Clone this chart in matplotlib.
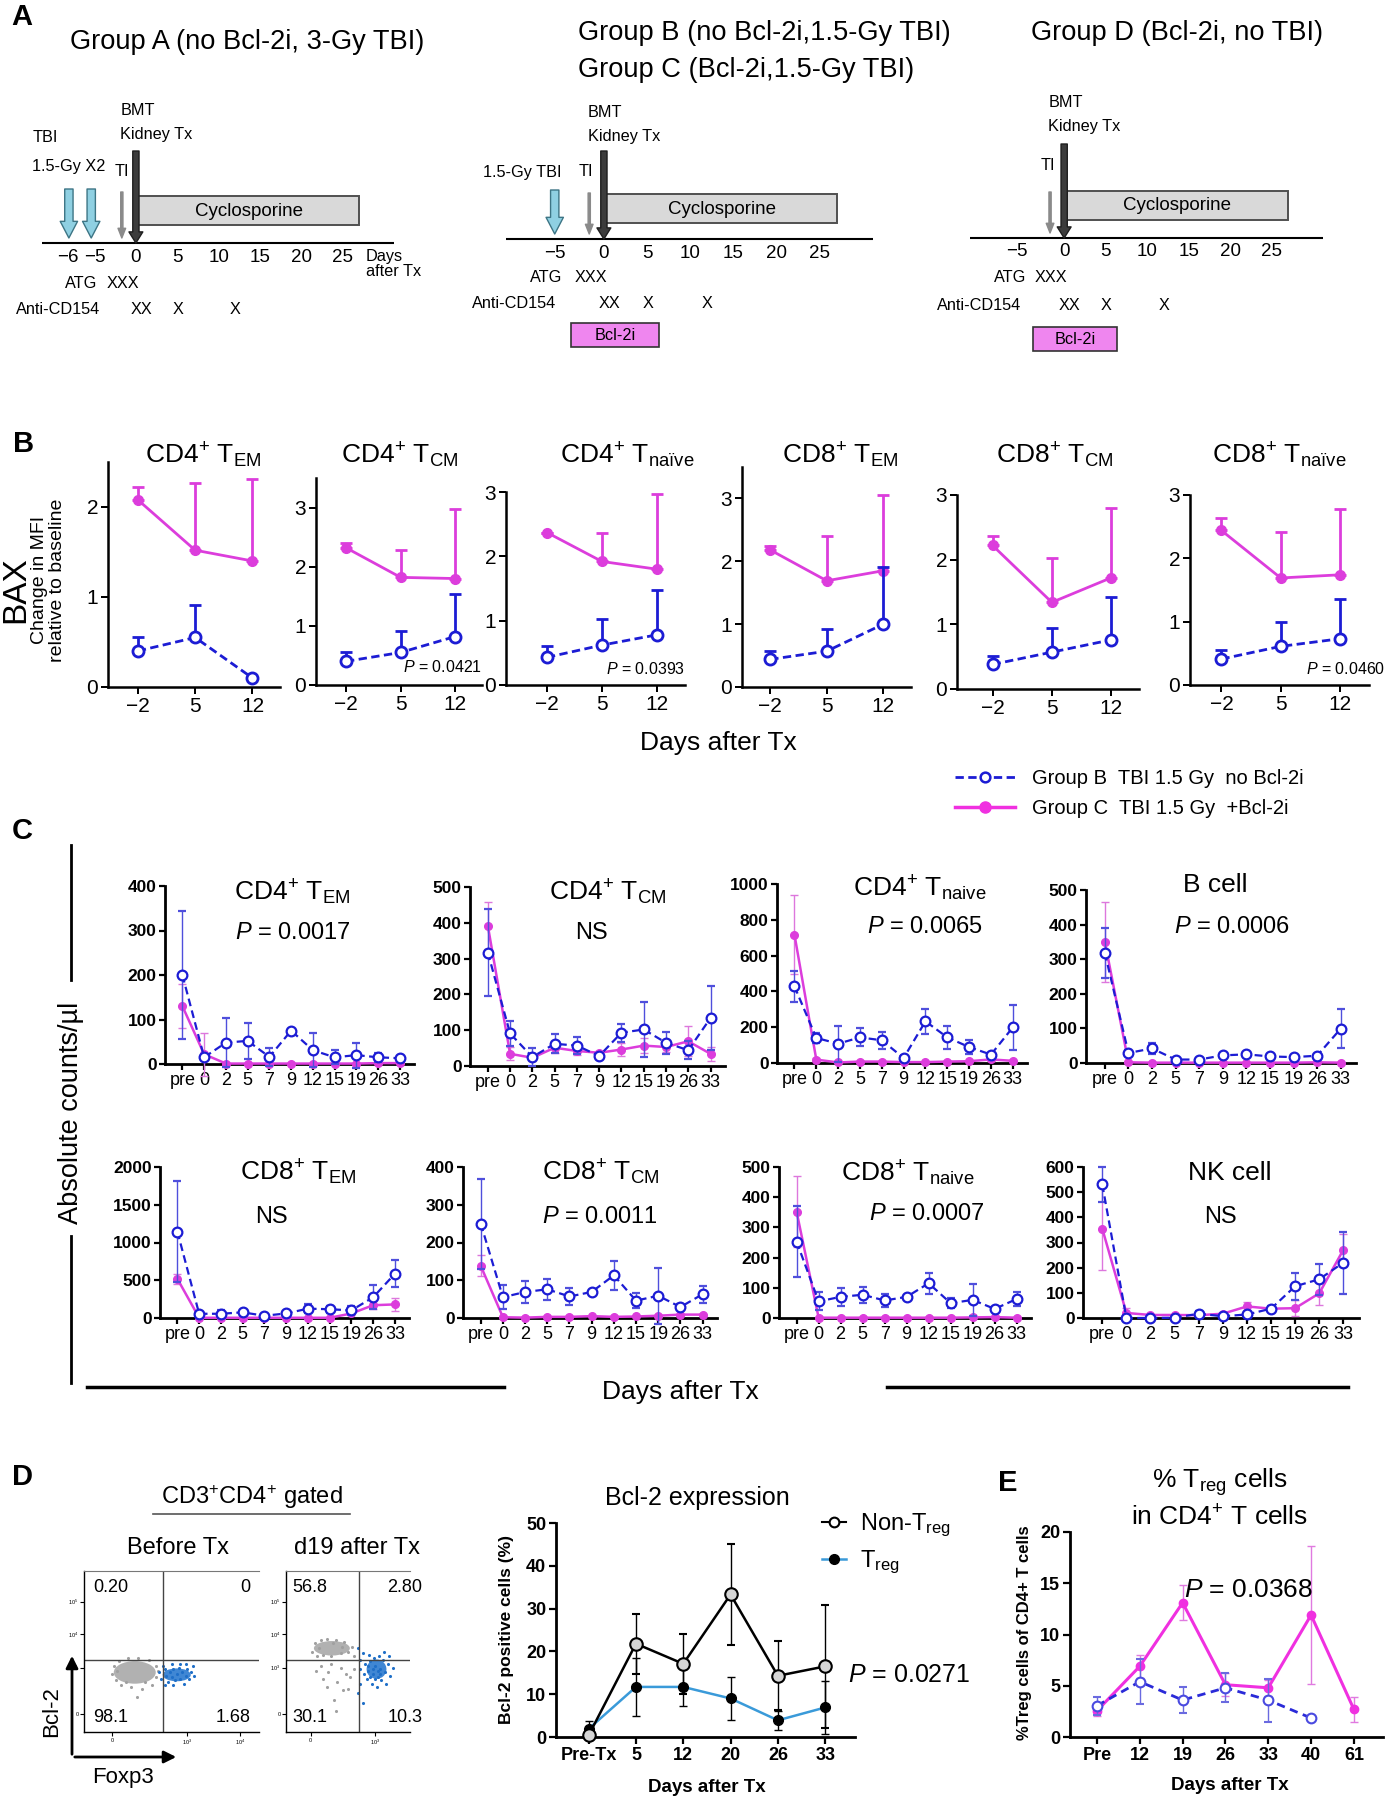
import numpy as np
import matplotlib
matplotlib.use("Agg")
import matplotlib.pyplot as plt
from matplotlib import font_manager as fm
from matplotlib.patches import Rectangle, Ellipse, FancyArrowPatch
from matplotlib.lines import Line2D


def font_ok(name):
    try:
        fm.findfont(name, fallback_to_default=False)
        return True
    except Exception:
        return False


SANS = "Liberation Sans" if font_ok("Liberation Sans") else "DejaVu Sans"

plt.rcParams["font.family"] = [SANS, "DejaVu Sans"]
plt.rcParams["mathtext.fontset"] = "custom"
plt.rcParams["mathtext.rm"] = SANS
plt.rcParams["mathtext.it"] = SANS + ":italic"
plt.rcParams["mathtext.bf"] = SANS + ":bold"

# ---------------- panel A: schedule (days after Tx, schematic axis) ----------------
tx_day = 0
ti_day = -1.7
csa_start, csa_end = 0.3, 27.0
bcl2i_start, bcl2i_end = -3.8, 6.4
atg_day = -1.55
cd154_days = [0.7, 5.1, 12.0]
cd154_marks = ["XX", "X", "X"]
tbi_days_A = [-8.1, -5.4]      # axis left of 0 is squeezed in the original
tbi_days_B = [-5.7]
ticks_A = [-8.2, -4.9, 0, 5, 10, 15, 20, 25]
ticklabels_A = ["\u22126", "\u22125", "0", "5", "10", "15", "20", "25"]
ticks_BD = [-5.7, 0, 5, 10, 15, 20, 25]
ticklabels_BD = ["\u22125", "0", "5", "10", "15", "20", "25"]

# ---------------- panel B: BAX change in MFI ----------------
b_titles = [r"CD4$^{+}$ T$_{\mathrm{EM}}$", r"CD4$^{+}$ T$_{\mathrm{CM}}$", r"CD4$^{+}$ T$_{\mathrm{naïve}}$",
            r"CD8$^{+}$ T$_{\mathrm{EM}}$", r"CD8$^{+}$ T$_{\mathrm{CM}}$", r"CD8$^{+}$ T$_{\mathrm{naïve}}$"]
b_days = ["\u22122", "5", "12"]
b_grpC = [[2.08, 1.52, 1.40], [2.32, 1.82, 1.80], [2.37, 1.92, 1.80],
          [2.18, 1.69, 1.85], [2.22, 1.34, 1.72], [2.44, 1.69, 1.74]]
b_grpC_err = [[0.14, 0.75, 0.91], [0.08, 0.46, 1.18], [0.0, 0.45, 1.17],
              [0.07, 0.72, 1.21], [0.14, 0.69, 1.08], [0.19, 0.72, 1.04]]
b_grpB = [[0.40, 0.55, 0.10], [0.40, 0.55, 0.82], [0.43, 0.62, 0.78],
          [0.44, 0.57, 1.00], [0.38, 0.57, 0.76], [0.41, 0.61, 0.73]]
b_grpB_err = [[0.16, 0.36, 0.0], [0.15, 0.37, 0.72], [0.17, 0.41, 0.69],
              [0.13, 0.36, 0.91], [0.13, 0.37, 0.67], [0.15, 0.38, 0.63]]
b_ymax = [2.5, 3.5, 3.0, 3.5, 3.0, 3.0]
b_pval = ["", r"$P$ = 0.0421", r"$P$ = 0.0393", "", "", r"$P$ = 0.0460"]

# ---------------- panel C: absolute counts ----------------
c_days = ["pre", "0", "2", "5", "7", "9", "12", "15", "19", "26", "33"]
c_titles = [r"CD4$^{+}$ T$_{\mathrm{EM}}$", r"CD4$^{+}$ T$_{\mathrm{CM}}$", r"CD4$^{+}$ T$_{\mathrm{naive}}$", "B cell",
            r"CD8$^{+}$ T$_{\mathrm{EM}}$", r"CD8$^{+}$ T$_{\mathrm{CM}}$", r"CD8$^{+}$ T$_{\mathrm{naive}}$", "NK cell"]
c_stats = [r"$P$ = 0.0017", "NS", r"$P$ = 0.0065", r"$P$ = 0.0006",
           "NS", r"$P$ = 0.0011", r"$P$ = 0.0007", "NS"]
c_ymax = [400, 500, 1000, 500, 2000, 400, 500, 600]
c_ystep = [100, 100, 200, 100, 500, 100, 100, 100]
c_grpB = [
    [200, 15, 48, 52, 16, 75, 31, 15, 20, 15, 13],
    [317, 91, 25, 62, 57, 28, 93, 102, 65, 44, 134],
    [428, 140, 108, 143, 127, 28, 233, 143, 89, 47, 199],
    [318, 29, 42, 10, 10, 22, 25, 19, 17, 21, 99],
    [1144, 56, 56, 75, 30, 60, 124, 116, 101, 274, 585],
    [250, 55, 69, 76, 57, 69, 113, 46, 59, 29, 63],
    [253, 55, 70, 77, 58, 70, 115, 49, 60, 30, 63],
    [531, 0, 0, 1, 17, 7, 14, 37, 126, 154, 220],
]
c_grpB_err = [
    [143, 5, 55, 40, 20, 3, 38, 16, 28, 10, 5],
    [122, 34, 25, 26, 23, 5, 25, 76, 31, 25, 90],
    [85, 28, 100, 50, 46, 5, 70, 65, 40, 5, 127],
    [72, 10, 17, 3, 3, 5, 5, 5, 5, 5, 56],
    [668, 10, 50, 20, 10, 20, 56, 45, 60, 160, 177],
    [119, 32, 29, 27, 23, 5, 38, 20, 74, 8, 22],
    [117, 30, 30, 26, 22, 3, 35, 17, 53, 5, 23],
    [69, 5, 5, 5, 12, 5, 5, 10, 54, 61, 123],
]
c_grpC = [
    [130, 22, 1, 1, 1, 1, 1, 1, 1, 2, 2],
    [392, 34, 23, 51, 42, 37, 46, 57, 53, 69, 34],
    [717, 19, 3, 8, 8, 5, 5, 8, 10, 20, 12],
    [350, 2, 1, 1, 1, 1, 1, 1, 1, 2, 1],
    [518, 3, 3, 3, 3, 3, 3, 3, 60, 169, 180],
    [138, 2, 1, 3, 3, 5, 3, 4, 6, 9, 9],
    [352, 1, 1, 1, 1, 1, 1, 1, 2, 3, 1],
    [355, 20, 12, 12, 11, 17, 46, 37, 39, 98, 271],
]
c_grpC_err = [
    [50, 48, 0, 0, 0, 0, 0, 0, 0, 1, 1],
    [66, 18, 10, 15, 12, 5, 18, 20, 15, 42, 20],
    [220, 10, 2, 3, 3, 2, 2, 3, 4, 8, 5],
    [116, 2, 0, 0, 0, 0, 0, 0, 0, 1, 0],
    [64, 3, 3, 3, 3, 3, 3, 3, 10, 50, 86],
    [28, 2, 1, 1, 1, 1, 1, 1, 2, 2, 2],
    [117, 1, 1, 1, 1, 1, 1, 1, 1, 2, 1],
    [165, 20, 5, 5, 5, 5, 16, 5, 31, 48, 61],
]

# ---------------- panel D: flow plots + Bcl-2 expression ----------------
flow_titles = ["Before Tx", "d19 after Tx"]
flow_quads = [["0.20", "0", "98.1", "1.68"], ["56.8", "2.80", "30.1", "10.3"]]
flow_gates = [(0.45, 0.45), (0.59, 0.45)]
pre_gray = [(0.16, 0.36), (0.17, 0.41), (0.18, 0.32), (0.2, 0.44), (0.21, 0.29), (0.25, 0.46),
            (0.27, 0.28), (0.31, 0.46), (0.33, 0.27), (0.37, 0.45), (0.39, 0.29), (0.41, 0.41),
            (0.41, 0.34), (0.42, 0.38), (0.24, 0.31), (0.35, 0.31), (0.3, 0.22), (0.19, 0.38)]
pre_blue = [(0.43, 0.37), (0.44, 0.33), (0.46, 0.39), (0.47, 0.35), (0.48, 0.31), (0.49, 0.37),
            (0.5, 0.34), (0.51, 0.39), (0.52, 0.32), (0.53, 0.36), (0.54, 0.4), (0.55, 0.33),
            (0.56, 0.37), (0.57, 0.3), (0.58, 0.35), (0.59, 0.39), (0.6, 0.33), (0.61, 0.37),
            (0.62, 0.41), (0.63, 0.35), (0.46, 0.29), (0.51, 0.29), (0.55, 0.42), (0.45, 0.41),
            (0.58, 0.42), (0.5, 0.42)]
d19_gray = [(0.21, 0.5), (0.23, 0.55), (0.25, 0.47), (0.28, 0.57), (0.3, 0.48), (0.33, 0.58),
            (0.36, 0.47), (0.4, 0.57), (0.44, 0.49), (0.47, 0.56), (0.5, 0.5), (0.53, 0.53),
            (0.55, 0.47), (0.27, 0.52), (0.45, 0.53), (0.38, 0.55), (0.24, 0.38), (0.3, 0.33),
            (0.34, 0.37), (0.41, 0.31), (0.46, 0.26), (0.39, 0.2), (0.52, 0.34), (0.28, 0.41),
            (0.44, 0.4), (0.5, 0.27), (0.33, 0.28), (0.55, 0.39), (0.4, 0.13), (0.36, 0.42),
            (0.48, 0.36)]
d19_blue = [(0.58, 0.52), (0.6, 0.45), (0.62, 0.49), (0.64, 0.42), (0.66, 0.38), (0.68, 0.44),
            (0.7, 0.36), (0.72, 0.41), (0.74, 0.34), (0.76, 0.39), (0.78, 0.45), (0.8, 0.37),
            (0.82, 0.42), (0.84, 0.35), (0.86, 0.4), (0.65, 0.33), (0.69, 0.3), (0.73, 0.28),
            (0.77, 0.32), (0.81, 0.3), (0.63, 0.36), (0.67, 0.48), (0.71, 0.46), (0.75, 0.47),
            (0.79, 0.5), (0.6, 0.3), (0.58, 0.24), (0.62, 0.18), (0.7, 0.39), (0.74, 0.38),
            (0.68, 0.34), (0.72, 0.33), (0.76, 0.36), (0.66, 0.41), (0.83, 0.47), (0.6, 0.39)]

d_days = ["Pre-Tx", "5", "12", "20", "26", "33"]
nontreg = [0.4, 21.8, 17.1, 33.3, 14.3, 16.5]
nontreg_err = [0.5, 7.0, 7.0, 11.9, 8.1, 14.3]
treg = [1.9, 11.7, 11.7, 9.0, 3.9, 6.9]
treg_err = [1.8, 6.8, 4.5, 5.0, 2.2, 6.3]

# ---------------- panel E: % Treg ----------------
e_days = ["Pre", "12", "19", "26", "33", "40", "61"]
e_grpC = [2.56, 6.9, 13.1, 5.1, 4.8, 11.9, 2.7]
e_grpC_err = [0.5, 1.1, 1.7, 1.1, 0.8, 6.7, 1.2]
e_grpB = [3.05, 5.4, 3.6, 4.8, 3.6, 1.85, np.nan]
e_grpB_err = [0.9, 2.2, 1.3, 1.4, 2.1, 0.0, np.nan]

BLUE = "#1c1cd4"
MAG = "#dc3ddc"
PINK = "#f030e0"
LAB = 11.7  # schedule label size

W, H = 1386, 1800
fig = plt.figure(figsize=(W / 100, H / 100), dpi=100)


def px_axes(x0, y0, x1, y1):
    return fig.add_axes([x0 / W, 1 - y1 / H, (x1 - x0) / W, (y1 - y0) / H])


def ftext(x, y, s, **kw):
    kw.setdefault("ha", "center")
    kw.setdefault("va", "center")
    return fig.text(x / W, 1 - y / H, s, **kw)


def fline(xs, ys, **kw):
    fig.add_artist(Line2D([x / W for x in xs], [1 - y / H for y in ys], **kw))


def farrow(p0, p1):
    fig.add_artist(FancyArrowPatch((p0[0] / W, 1 - p0[1] / H), (p1[0] / W, 1 - p1[1] / H),
                                   transform=fig.transFigure, arrowstyle="-|>", mutation_scale=18,
                                   lw=2, color="black"))


def style(ax, lw=1.8, fs=13, bold=False, tl=5):
    for s in ("top", "right"):
        ax.spines[s].set_visible(False)
    for s in ("left", "bottom"):
        ax.spines[s].set_linewidth(lw)
    ax.tick_params(width=lw * 0.8, length=tl, labelsize=fs, pad=2)
    if bold:
        for lab in ax.get_xticklabels() + ax.get_yticklabels():
            lab.set_weight("bold")


def arrow(ax, x, y0, y1, spec, fc, ec):
    ax.annotate("", xy=(x, y1), xytext=(x, y0),
                arrowprops=dict(arrowstyle=spec, fc=fc, ec=ec, lw=1, shrinkA=0, shrinkB=0,
                                mutation_scale=10))


# panel letters
for lab, x, y in [("A", 22, 17), ("B", 24, 444), ("C", 22, 831), ("D", 22, 1477), ("E", 1008, 1483)]:
    ftext(x, y, lab, fontsize=21, fontweight="bold")

# ================= Panel A =================
ftext(247, 42, "Group A (no Bcl-2i, 3-Gy TBI)", fontsize=19.6)
ftext(578, 33, "Group B (no Bcl-2i,1.5-Gy TBI)", fontsize=19.6, ha="left")
ftext(578, 70, "Group C (Bcl-2i,1.5-Gy TBI)", fontsize=19.6, ha="left")
ftext(1177, 33, "Group D (Bcl-2i, no TBI)", fontsize=19.6)

groups = [
    dict(x0=42, x1=394, y_axis=243, ticks=ticks_A, labels=ticklabels_A, box=196, tx_top=151,
         ti_top=189, tbi=tbi_days_A, bmt=110, atg_y=283, atg_x=-4.6, cd_y=310, cd_x=-14.5, bcl=None,
         texts=[(-12.5, 138, "TBI"), (-12.5, 167, "1.5-Gy X2"), (-2.6, 172, "TI"),
                (27.8, 257, "Days"), (27.8, 271, "after Tx")]),
    dict(x0=506, x1=873, y_axis=239, ticks=ticks_BD, labels=ticklabels_BD, box=194, tx_top=151,
         ti_top=190, tbi=tbi_days_B, bmt=112, atg_y=278, atg_x=-4.8, cd_y=303, cd_x=-15.3, bcl=323,
         texts=[(-14.0, 172, "1.5-Gy TBI"), (-2.9, 172, "TI")]),
    dict(x0=970, x1=1323, y_axis=238, ticks=ticks_BD, labels=ticklabels_BD, box=191, tx_top=144,
         ti_top=189, tbi=[], bmt=102, atg_y=278, atg_x=-4.6, cd_y=305, cd_x=-15.3, bcl=327,
         texts=[(-2.8, 165, "TI")]),
]
for g in groups:
    ax = px_axes(g["x0"], 75, g["x1"], 362)
    ax.set_xlim(-11.35, 31.2)
    ax.set_ylim(362, 75)
    ax.axis("off")
    ya = g["y_axis"]
    ax.plot([-11.35, 31.2], [ya, ya], color="black", lw=1.5)
    for p, lab in zip(g["ticks"], g["labels"]):
        ax.text(p, ya + 14, lab, ha="center", va="center", fontsize=13.5)
    bt = g["box"]
    ax.add_patch(Rectangle((csa_start, bt), csa_end - csa_start, 29, fc="#d9d9d9", ec="#505050", lw=1.4))
    ax.text((csa_start + csa_end) / 2, bt + 15, "Cyclosporine", ha="center", va="center", fontsize=13.5)
    for d in g["tbi"]:
        arrow(ax, d, g["ti_top"], ya - 5, "simple,head_width=1.25,head_length=1.2,tail_width=0.6",
              "#8fd0e2", "#3d7585")
    arrow(ax, ti_day, g["ti_top"] + 3, ya - 5, "simple,head_width=0.55,head_length=0.7,tail_width=0.16",
          "#8a8a8a", "#8a8a8a")
    arrow(ax, tx_day, g["tx_top"], ya, "simple,head_width=1.0,head_length=0.8,tail_width=0.45",
          "#3c3c3c", "#1e1e1e")
    ax.text(-1.9, g["bmt"], "BMT", ha="left", va="center", fontsize=LAB)
    ax.text(-1.9, g["bmt"] + 24, "Kidney Tx", ha="left", va="center", fontsize=LAB)
    for x, y, s in g["texts"]:
        ax.text(x, y, s, ha="left", va="center", fontsize=LAB)
    ax.text(g["atg_x"], g["atg_y"], "ATG", ha="right", va="center", fontsize=LAB)
    ax.text(atg_day, g["atg_y"], "XXX", ha="center", va="center", fontsize=LAB)
    ax.text(g["cd_x"], g["cd_y"], "Anti-CD154", ha="left", va="center", fontsize=LAB)
    for d, m in zip(cd154_days, cd154_marks):
        ax.text(d, g["cd_y"], m, ha="center", va="center", fontsize=LAB)
    if g["bcl"] is not None:
        ax.add_patch(Rectangle((bcl2i_start, g["bcl"]), bcl2i_end - bcl2i_start, 24,
                               fc="#ef86ef", ec="#333333", lw=1.2))
        ax.text((bcl2i_start + bcl2i_end) / 2, g["bcl"] + 12, "Bcl-2i", ha="center", va="center",
                fontsize=LAB)

# ================= Panel B =================
b_rects = [(108, 462, 280, 687), (316, 478, 482, 685), (506, 492, 685, 685),
           (742, 467, 911, 687), (957, 495, 1139, 689), (1190, 495, 1369, 685)]
b_xlims = [(-0.52, 2.48), (-0.55, 2.49), (-0.745, 2.51), (-0.5, 2.49), (-0.6, 2.47), (-0.53, 2.49)]
b_title_x = [203, 400, 627, 840, 1055, 1279]
b_p_x = [1.0, 1.0, 1.0, 1.0, 1.0, 1.09]
for i in range(6):
    ax = px_axes(*b_rects[i])
    xs = np.arange(len(b_days))
    zeros = np.zeros(len(b_days))
    ax.errorbar(xs, b_grpC[i], yerr=[zeros, b_grpC_err[i]], color=MAG, lw=2, marker="o", ms=7,
                capsize=4, capthick=2, elinewidth=2, zorder=3, clip_on=False)
    ax.errorbar(xs, b_grpB[i], yerr=[zeros, b_grpB_err[i]], color=BLUE, lw=2, dashes=(3, 1.6),
                marker="o", ms=8, mfc="white", mec=BLUE, mew=2, capsize=4, capthick=2, elinewidth=2,
                zorder=4, clip_on=False)
    ax.set_xlim(*b_xlims[i])
    ax.set_ylim(0, b_ymax[i])
    ax.set_xticks(xs)
    ax.set_xticklabels(b_days)
    ax.set_yticks(np.arange(0, int(b_ymax[i]) + 1))
    style(ax, lw=1.8, fs=15)
    ftext(b_title_x[i], 455, b_titles[i], fontsize=19)
    if b_pval[i]:
        ax.text(b_p_x[i], 0.085, b_pval[i], transform=ax.transAxes, ha="right", va="center",
                fontsize=11.5)

ftext(16, 590, "BAX", fontsize=24, rotation=90)
ftext(40, 580, "Change in MFI", fontsize=14, rotation=90)
ftext(58, 580, "relative to baseline", fontsize=14, rotation=90)
ftext(718, 743, "Days after Tx", fontsize=19)

h_b = Line2D([], [], color=BLUE, lw=2, dashes=(3, 1.6), marker="o", ms=7, mfc="white", mew=1.8)
h_c = Line2D([], [], color=PINK, lw=2.5, marker="o", ms=8)
fig.legend([h_b, h_c], ["Group B  TBI 1.5 Gy  no Bcl-2i", "Group C  TBI 1.5 Gy  +Bcl-2i"],
           loc="upper left", bbox_to_anchor=(955 / W, 1 - 769 / H), frameon=False, fontsize=14.5,
           handlelength=3.0, handletextpad=0.8, labelspacing=0.55, borderpad=0, borderaxespad=0)

# ================= Panel C =================
c_rects = [(165, 886, 414, 1064), (470, 887, 725, 1066), (777, 884, 1027, 1063), (1086, 890, 1356, 1063),
           (160, 1167, 409, 1318), (463, 1167, 717, 1318), (779, 1167, 1031, 1318), (1083, 1167, 1359, 1318)]
c_title_pos = [(292, 892), (608, 892), (920, 888), (1215, 885),
               (298, 1172), (601, 1172), (908, 1173), (1230, 1173)]
c_stat_pos = [(293, 933), (591, 933), (925, 927), (1232, 927),
              (271, 1217), (600, 1217), (927, 1214), (1220, 1217)]
for i in range(8):
    ax = px_axes(*c_rects[i])
    xs = np.arange(len(c_days))
    ax.errorbar(xs, c_grpC[i], yerr=c_grpC_err[i], color=MAG, lw=1.8, marker="o", ms=5.5,
                ecolor="#dd77dd", elinewidth=1, capsize=3, capthick=1, zorder=3, clip_on=False)
    ax.errorbar(xs, c_grpB[i], yerr=c_grpB_err[i], color=BLUE, lw=1.6, dashes=(3.5, 2), marker="o",
                ms=7, mfc="white", mec=BLUE, mew=1.6, ecolor="#4f4fdc", elinewidth=1, capsize=3,
                capthick=1, zorder=4, clip_on=False)
    ax.set_xlim(-0.8, 10.65)
    ax.set_ylim(0, c_ymax[i])
    ax.set_xticks(xs)
    ax.set_xticklabels(c_days)
    ax.set_yticks(np.arange(0, c_ymax[i] + 1, c_ystep[i]))
    style(ax, lw=2, fs=13, tl=4)
    for lab in ax.get_yticklabels():
        lab.set_weight("bold")
        lab.set_fontsize(12.5)
    ftext(c_title_pos[i][0], c_title_pos[i][1], c_titles[i], fontsize=19)
    ftext(c_stat_pos[i][0], c_stat_pos[i][1], c_stats[i], fontsize=17)

fline([71, 71], [845, 980], color="black", lw=2)
fline([71, 71], [1236, 1383], color="black", lw=2)
ftext(71, 1113, "Absolute counts/\u00b5l", fontsize=19.5, rotation=90)
fline([87, 504], [1387, 1387], color="black", lw=2.5)
fline([887, 1348], [1387, 1387], color="black", lw=2.5)
ftext(680, 1392, "Days after Tx", fontsize=19)

# ================= Panel D =================
ftext(252, 1497, r"CD3$^{+}$CD4$^{+}$ gated", fontsize=17)
fline([153, 350], [1514, 1514], color="#555555", lw=1.2)
flow_rects = [(84, 1571, 259, 1732), (286, 1571, 410, 1732)]
flow_pts = [(pre_gray, pre_blue), (d19_gray, d19_blue)]
flow_blobs = [[((0.29, 0.37), 0.24, 0.14, "#a9a9a9"), ((0.53, 0.355), 0.16, 0.08, "#2b7ad0")],
              [((0.37, 0.52), 0.29, 0.09, "#a9a9a9"), ((0.73, 0.39), 0.16, 0.12, "#2b7ad0")]]
flow_title_x = [178, 357]
flow_xt = [[0.16, 0.59, 0.89], [0.2, 0.72]]
flow_xtl = [["0", "10$^{3}$", "10$^{4}$"], ["0", "10$^{3}$"]]
flow_num_right = [0.95, 1.1]
for k in range(2):
    ax = px_axes(*flow_rects[k])
    ax.set_xlim(0, 1)
    ax.set_ylim(0, 1)
    ax.spines["right"].set_visible(False)
    ax.spines["top"].set_color("#777777")
    for s in ("left", "bottom"):
        ax.spines[s].set_linewidth(1.0)
    for (cx, cy), w, h, col in flow_blobs[k]:
        ax.add_patch(Ellipse((cx, cy), w, h, fc=col, ec="none", alpha=0.9))
    gx, gy = zip(*flow_pts[k][0])
    ax.scatter(gx, gy, s=5, color="#a0a0a0", lw=0)
    bx, by = zip(*flow_pts[k][1])
    ax.scatter(bx, by, s=5, color="#1f6fc8", lw=0)
    ax.axvline(flow_gates[k][0], color="#444444", lw=1)
    ax.axhline(flow_gates[k][1], color="#444444", lw=1)
    ax.set_yticks([0.11, 0.40, 0.61, 0.81])
    ax.set_yticklabels(["0", "10$^{3}$", "10$^{4}$", "10$^{5}$"], fontsize=4)
    ax.set_xticks(flow_xt[k])
    ax.set_xticklabels(flow_xtl[k], fontsize=4)
    ax.tick_params(length=3, width=0.8, pad=1)
    q = flow_quads[k]
    ax.text(0.05, 0.9, q[0], transform=ax.transAxes, ha="left", va="center", fontsize=13)
    ax.text(flow_num_right[k], 0.9, q[1], transform=ax.transAxes, ha="right", va="center", fontsize=13)
    ax.text(0.05, 0.09, q[2], transform=ax.transAxes, ha="left", va="center", fontsize=13)
    ax.text(flow_num_right[k], 0.09, q[3], transform=ax.transAxes, ha="right", va="center", fontsize=13)
    ftext(flow_title_x[k], 1548, flow_titles[k], fontsize=17)

farrow((72, 1757), (72, 1653))
farrow((72, 1757), (179, 1757))
ftext(52, 1712, "Bcl-2", fontsize=16, rotation=90)
ftext(123, 1778, "Foxp3", fontsize=16)

ax = px_axes(556, 1523, 855, 1737)
xs = np.arange(len(d_days))
ax.errorbar(xs, treg, yerr=treg_err, color="#3a9ad9", lw=1.8, marker="o", ms=7, mfc="black", mec="black",
            ecolor="black", elinewidth=1, capsize=3, capthick=1, zorder=3, clip_on=False)
ax.errorbar(xs, nontreg, yerr=nontreg_err, color="black", lw=1.8, marker="o", ms=9, mfc="#d6d6d6",
            mec="black", mew=1.5, ecolor="black", elinewidth=1, capsize=3, capthick=1, zorder=4,
            clip_on=False)
ax.set_xlim(-0.69, 5.63)
ax.set_ylim(0, 50)
ax.set_xticks(xs)
ax.set_xticklabels(d_days)
ax.set_yticks(np.arange(0, 51, 10))
style(ax, lw=2, fs=13, bold=True, tl=5)
ftext(697, 1498, "Bcl-2 expression", fontsize=18)
ftext(507, 1630, "Bcl-2 positive cells (%)", fontsize=12.5, fontweight="bold", rotation=90)
ftext(707, 1787, "Days after Tx", fontsize=13.5, fontweight="bold")
ftext(909, 1675, r"$P$ = 0.0271", fontsize=18)
h_n = Line2D([], [], color="black", lw=1.5, marker="o", ms=7, mfc="white", mec="black", mew=1.5)
h_t = Line2D([], [], color="#3a9ad9", lw=1.8, marker="o", ms=7, mfc="black", mec="black")
ax.legend([h_n, h_t], [r"Non-T$_{\mathrm{reg}}$", r"T$_{\mathrm{reg}}$"], loc="upper left",
          bbox_to_anchor=(822 / W, 1 - 1512 / H), bbox_transform=fig.transFigure, frameon=False,
          fontsize=17, handlelength=1.0, handletextpad=0.6, labelspacing=0.4, borderpad=0, borderaxespad=0)

# ================= Panel E =================
ax = px_axes(1070, 1532, 1383, 1737)
xs = np.arange(len(e_days))
ax.errorbar(xs, e_grpC, yerr=e_grpC_err, color=PINK, lw=2.2, marker="o", ms=6, ecolor="#e07ae0",
            elinewidth=1, capsize=3, capthick=1, zorder=3, clip_on=False)
ax.errorbar(xs, e_grpB, yerr=e_grpB_err, color="#2a2ad8", lw=2, dashes=(3, 2), marker="o", ms=7,
            mfc="white", mec="#4a4ae0", mew=1.5, ecolor="#6a6ae0", elinewidth=1, capsize=3, capthick=1,
            zorder=4, clip_on=False)
ax.set_xlim(-0.63, 6.68)
ax.set_ylim(0, 20)
ax.set_xticks(xs)
ax.set_xticklabels(e_days)
ax.set_yticks(np.arange(0, 21, 5))
style(ax, lw=2, fs=13, bold=True, tl=5)
ftext(1220, 1482, r"% T$_{\mathrm{reg}}$ cells", fontsize=19)
ftext(1219, 1518, r"in CD4$^{+}$ T cells", fontsize=19)
ftext(1249, 1590, r"$P$ = 0.0368", fontsize=19)
ftext(1024, 1633, "%Treg cells of CD4+ T cells", fontsize=12, fontweight="bold", rotation=90)
ftext(1230, 1785, "Days after Tx", fontsize=13.5, fontweight="bold")

fig.savefig("out.png", dpi=100)
